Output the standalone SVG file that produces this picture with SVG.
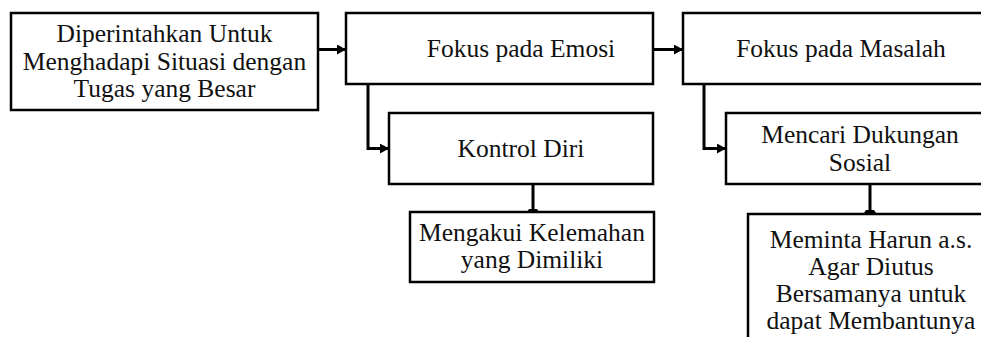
<svg xmlns="http://www.w3.org/2000/svg" width="981" height="337" viewBox="0 0 981 337">
<defs>
<style>
.box{fill:#fff;stroke:#000;stroke-width:2.5}
.t{font-family:"Liberation Serif","Times New Roman",serif;font-size:25.5px;fill:#111;text-anchor:middle}
.c{fill:none;stroke:#000;stroke-width:3}
</style>
<marker id="ah" markerWidth="9" markerHeight="10" refX="8" refY="5" orient="auto" markerUnits="userSpaceOnUse">
<path d="M0,0 L9,5 L0,10 Z" fill="#000"/>
</marker>
</defs>
<rect width="981" height="337" fill="#fff"/>
<g id="connectors">
<path class="c" d="M319,49.5 H345" marker-end="url(#ah)"/>
<path class="c" d="M653,49.5 H682" marker-end="url(#ah)"/>
<path class="c" d="M368,84 V148.5 H388" marker-end="url(#ah)"/>
<path class="c" d="M704,84 V148.5 H725" marker-end="url(#ah)"/>
<path class="c" d="M533,184 V211"/>
<path d="M527,212 L529,209 L537,209 L539,212 Z" fill="#000"/>
<path class="c" d="M870,184 V212"/>
<path d="M864,213 L866,210 L874,210 L876,213 Z" fill="#000"/>
</g>
<g id="n1">
<rect class="box" x="11" y="13" width="307" height="97"/>
<text class="t" x="164.5" y="42">Diperintahkan Untuk</text>
<text class="t" x="164.5" y="69.5">Menghadapi Situasi dengan</text>
<text class="t" x="164.5" y="97">Tugas yang Besar</text>
</g>
<g id="n2">
<rect class="box" x="346" y="13" width="307" height="71"/>
<text class="t" x="521" y="57">Fokus pada Emosi</text>
</g>
<g id="n3">
<rect class="box" x="683" y="13" width="320" height="71"/>
<text class="t" x="841" y="57">Fokus pada Masalah</text>
</g>
<g id="n4">
<rect class="box" x="389" y="113" width="264" height="71"/>
<text class="t" x="521" y="157">Kontrol Diri</text>
</g>
<g id="n5">
<rect class="box" x="726" y="113" width="280" height="71"/>
<text class="t" x="860" y="143">Mencari Dukungan</text>
<text class="t" x="860" y="171">Sosial</text>
</g>
<g id="n6">
<rect class="box" x="410" y="212" width="244" height="70"/>
<text class="t" x="532" y="241">Mengakui Kelemahan</text>
<text class="t" x="532" y="268">yang Dimiliki</text>
</g>
<g id="n7">
<rect class="box" x="748" y="214" width="260" height="140"/>
<text class="t" x="871" y="248">Meminta Harun a.s.</text>
<text class="t" x="871" y="275">Agar Diutus</text>
<text class="t" x="871" y="302">Bersamanya untuk</text>
<text class="t" x="871" y="329">dapat Membantunya</text>
</g>
</svg>
